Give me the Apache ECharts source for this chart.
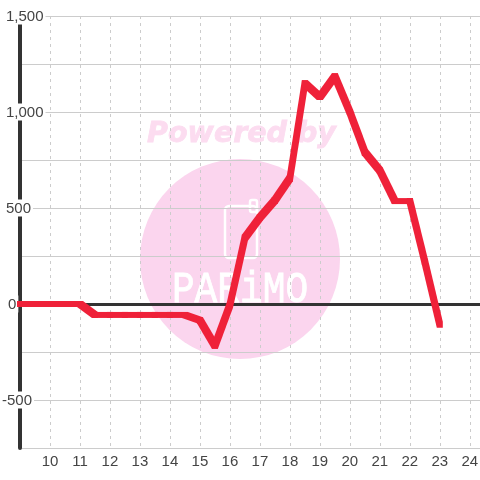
<!DOCTYPE html>
<html><head><meta charset="utf-8">
<style>html,body{margin:0;padding:0;background:#fff}#c{width:480px;height:480px}</style>
<script src="https://cdn.jsdelivr.net/npm/echarts@6/dist/echarts.min.js"></script>
</head><body><div id="c"></div>
<script>
var hours = [9,9.5,10,10.5,11,11.5,12,12.5,13,13.5,14,14.5,15,15.5,16,16.5,17,17.5,18,18.5,19,19.5,20,20.5,21,21.5,22,22.5,23];
var values = [0,0,0,0,0,-57,-57,-57,-57,-57,-57,-57,-85,-217,-5,345,450,540,655,1150,1078,1186,1000,790,695,536,536,220,-108];
var zeroHours = [9,24.34];
var zeroValues = [0,0];
var yLabelled = {'1500':'p4','1000':'p4','500':'p4','0':'p6','-500':'p0'};
function fmt(v){return String(v).replace(/\B(?=(\d{3})+$)/g,',');}
var segments = hours.slice(1).map(function(h,i){return [hours[i],values[i],h,values[i+1]];});
var PEN = 3;
function renderSegment(params, api){
  var a = api.coord([api.value(0),api.value(1)]);
  var b = api.coord([api.value(2),api.value(3)]);
  var h = PEN, pts;
  if (b[1] >= a[1]) {
    pts = [[a[0]-h,a[1]-h],[a[0]+h,a[1]-h],[b[0]+h,b[1]-h],[b[0]+h,b[1]+h],[b[0]-h,b[1]+h],[a[0]-h,a[1]+h]];
  } else {
    pts = [[a[0]-h,a[1]-h],[b[0]-h,b[1]-h],[b[0]+h,b[1]-h],[b[0]+h,b[1]+h],[a[0]+h,a[1]+h],[a[0]-h,a[1]+h]];
  }
  return {type:'polygon',shape:{points:pts},style:{fill:'#ef2139'},silent:true};
}
function renderZero(params, api){
  var a = api.coord([api.value(0),api.value(1)]);
  var b = api.coord([api.value(2),api.value(3)]);
  return {type:'rect',shape:{x:a[0],y:a[1]-1,width:b[0]-a[0],height:3},style:{fill:'#333'},silent:true};
}
var tc='#444';
var font='"Liberation Sans", Arial, sans-serif';
var chart=echarts.init(document.getElementById('c'),null,{renderer:'canvas'});
chart.setOption({
  animation:false,
  backgroundColor:'#fff',
  grid:{left:20,right:0,top:16,bottom:32,containLabel:false,outerBoundsMode:'none'},
  graphic:[
    {type:'circle',z:-10,silent:true,shape:{cx:240,cy:259,r:100},style:{fill:'#fbd5ee'}},
    {type:'text',z:-9,silent:true,x:241.5,y:135,style:{text:'Powered by',fill:'#fcdcf0',stroke:'#fcdcf0',lineWidth:0.8,font:'italic bold 28.5px "DejaVu Sans"',textAlign:'center',textVerticalAlign:'middle'}},
    {type:'rect',z:-9,silent:true,shape:{x:225,y:206,width:32,height:52,r:4},style:{fill:'none',stroke:'#fff',lineWidth:2.5}},
    {type:'rect',z:-9,silent:true,shape:{x:250,y:200,width:7,height:12,r:2},style:{fill:'none',stroke:'#fff',lineWidth:2.5}},
    {type:'text',z:-9,silent:true,x:240,y:290,scaleX:0.86,style:{text:'PARiMO',fill:'#fff',stroke:'#fff',lineWidth:0.8,font:'44px "Liberation Mono"',textAlign:'center',textVerticalAlign:'middle'}}
  ],
  xAxis:{
    type:'value',min:9,max:24.34,interval:1,position:'bottom',
    axisLine:{show:false},axisTick:{show:false},
    axisLabel:{color:tc,fontSize:15,fontFamily:font,margin:6,showMaxLabel:false,showMinLabel:false,formatter:function(v){return String(v);}},
    splitLine:{show:true,lineStyle:{color:'#ccc',width:1,type:[3,4]}}
  },
  yAxis:{
    type:'value',min:-750,max:1500,interval:250,
    axisLine:{show:true,onZero:false,lineStyle:{color:'#333',width:4}},
    axisTick:{show:false},
    axisLabel:{
      show:true,align:'left',margin:18,color:tc,fontSize:15,fontFamily:font,
      backgroundColor:'#fff',padding:[1,2,0,0],lineHeight:16,
      formatter:function(v){var k=yLabelled[String(v)];return k?'{'+k+'|'+fmt(v)+'}':'';},
      rich:{
        p0:{color:tc,fontSize:15,fontFamily:font,lineHeight:16,padding:[0,0,0,0]},
        p4:{color:tc,fontSize:15,fontFamily:font,lineHeight:16,padding:[0,0,0,4]},
        p6:{color:tc,fontSize:15,fontFamily:font,lineHeight:16,padding:[0,0,0,6]}
      }
    },
    splitLine:{show:true,lineStyle:{color:'#ccc',width:1}}
  },
  series:[
    {name:'zero',type:'custom',z:1,silent:true,coordinateSystem:'cartesian2d',renderItem:renderZero,encode:{x:[0,2],y:[1,3]},data:[[zeroHours[0],zeroValues[0],zeroHours[1],zeroValues[1]]]},
    {name:'value',type:'custom',z:3,clip:false,silent:true,coordinateSystem:'cartesian2d',renderItem:renderSegment,encode:{x:[0,2],y:[1,3]},data:segments}
  ]
});
</script></body></html>
